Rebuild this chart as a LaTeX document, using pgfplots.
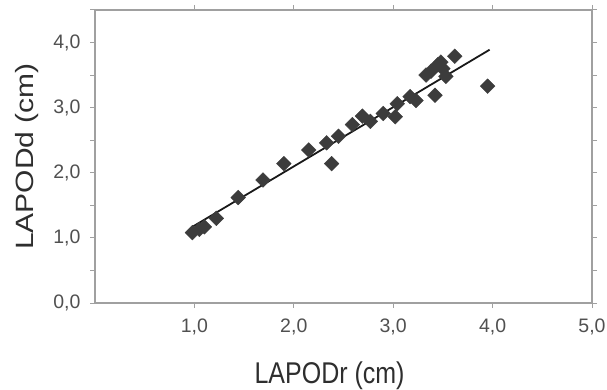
\documentclass[border=0pt]{standalone}
\usepackage{pgfplots}
\pgfplotsset{compat=1.18}
\usepackage{fontspec}
\setmainfont{Liberation Sans}
\definecolor{axgray}{HTML}{A0A0A0}
\definecolor{markgray}{HTML}{3C3C3C}
\definecolor{ticktext}{HTML}{505050}
\definecolor{labtext}{HTML}{2E2E2E}
\begin{document}
\begin{tikzpicture}
\path[use as bounding box] (0,0) rectangle (607bp,390bp);
\begin{axis}[
  at={(95bp,87bp)}, anchor=south west,
  scale only axis, width=497bp, height=293bp,
  xmin=0, xmax=5, ymin=0, ymax=4.5,
  xtick={1,2,3,4,5},
  ytick={0,1,2,3,4},
  minor ytick={0.5,1.5,2.5,3.5,4.5},
  tick align=outside,
  major tick length=5bp, minor tick length=5bp,
  every tick/.style={axgray, line width=1pt},
  axis line style={axgray, line width=1.4pt},
  tick label style={font=\fontsize{19.5bp}{21bp}\selectfont, text=ticktext},
  /pgf/number format/assume math mode=true,
  /pgf/number format/.cd, fixed, fixed zerofill, precision=1, use comma,
  /pgfplots/.cd,
  xticklabel style={yshift=-7bp},
  yticklabel style={xshift=-6bp},
  xlabel={\scalebox{1}[1.2]{LAPODr (cm)}},
  ylabel={\scalebox{1.2}[1]{LAPODd (cm)}},
  label style={font=\fontsize{25bp}{28bp}\selectfont, text=labtext},
  xlabel style={at={(axis description cs:0.472,0)}, anchor=base, yshift=-80bp},
  ylabel style={at={(axis description cs:-0.1247,0.5)}, anchor=base},
  clip=false,
]
\addplot[only marks, mark=square*, mark size=5.2bp,
  mark options={rotate=45, fill=markgray, draw=markgray}] coordinates {
  (0.98,1.08) (1.05,1.13) (1.10,1.17) (1.22,1.30) (1.44,1.62)
  (1.69,1.89) (1.90,2.14) (2.15,2.35) (2.33,2.46) (2.38,2.14)
  (2.45,2.56) (2.59,2.74) (2.69,2.87) (2.77,2.79) (2.90,2.91)
  (3.02,2.86) (3.04,3.06) (3.17,3.17) (3.23,3.11) (3.33,3.50)
  (3.38,3.56) (3.42,3.19) (3.45,3.66) (3.50,3.60) (3.53,3.48)
  (3.48,3.70) (3.62,3.79) (3.95,3.33)
};
\addplot[color=black!90, line width=1.8pt] coordinates {
  (0.98,1.17) (3.97,3.89)
};
\end{axis}
\end{tikzpicture}
\end{document}
